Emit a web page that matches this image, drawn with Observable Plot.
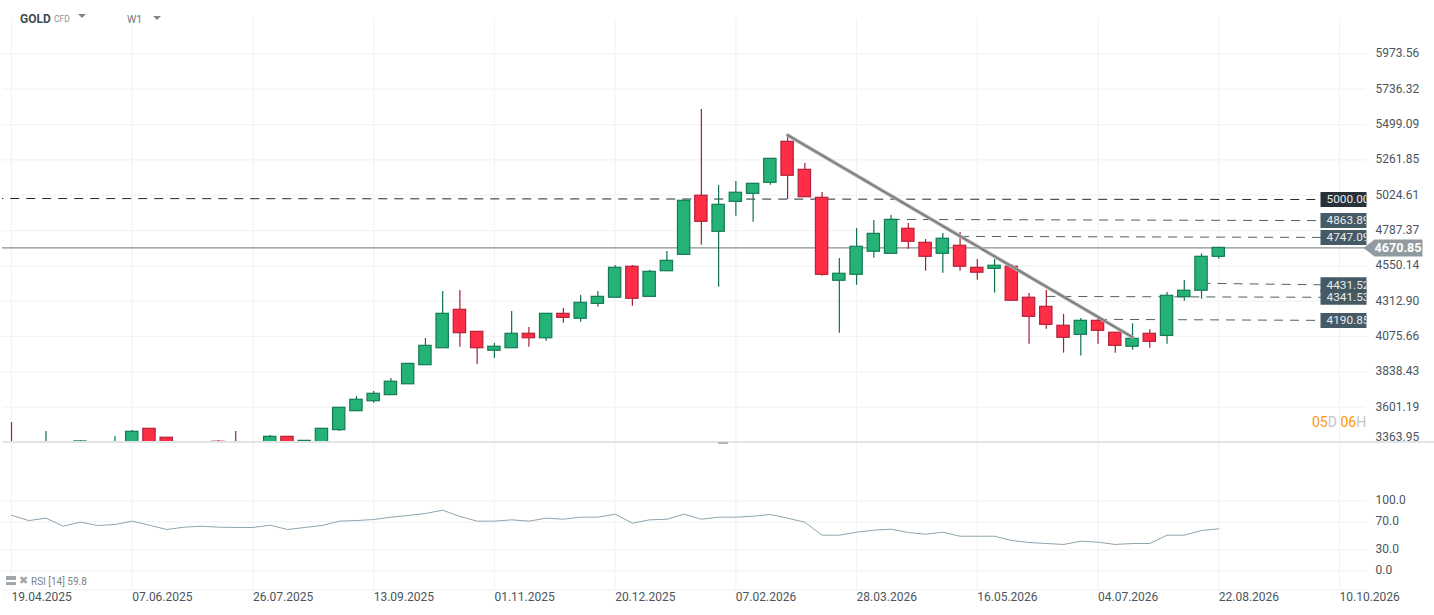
<!DOCTYPE html>
<html>
<head>
<meta charset="utf-8">
<script src="https://cdn.jsdelivr.net/npm/d3@7"></script>
<script src="https://cdn.jsdelivr.net/npm/@observablehq/plot@0.6"></script>
<style>
  html, body { margin: 0; padding: 0; background: #fff; font-family: Roboto, sans-serif; overflow: hidden; }
  #chart { position: relative; width: 1434px; height: 615px; }
  #chart svg { display: block; overflow: visible; background: transparent; }
  .abs { position: absolute; white-space: nowrap; line-height: 1; }
  .tri { position: absolute; width: 0; height: 0; border-left: 4.5px solid transparent; border-right: 4.5px solid transparent; border-top: 4.5px solid #7d868c; }
</style>
</head>
<body>
<div id="chart">
  <div class="abs" style="left:20px;top:13px;font-size:12px;font-weight:700;color:#3f4b53">GOLD</div>
  <div class="abs" style="left:54px;top:15px;font-size:8.5px;color:#8a9298">CFD</div>
  <div class="tri" style="left:78px;top:14px"></div>
  <div class="abs" style="left:127px;top:15px;font-size:10.5px;color:#6f787e">W1</div>
  <div class="tri" style="left:153px;top:16px"></div>
  <div class="abs" style="left:1312px;top:415px;font-size:14px;color:#ff9800">05<span style="color:#c2c5c8">D</span> 06<span style="color:#c2c5c8">H</span></div>
  <div class="abs" style="left:3px;top:441px;width:1431px;height:2px;background:#e1e3e5"></div>
  <div class="abs" style="left:718px;top:442px;width:10px;height:1.5px;background:#b4b7ba"></div>
  <div class="abs" style="left:6px;top:576px;width:10px;height:4px;background:#a0a6aa;border-bottom:1px solid #fff"></div>
  <div class="abs" style="left:6px;top:582px;width:10px;height:3px;background:#a0a6aa"></div>
  <div class="abs" style="left:19px;top:575px;font-size:11px;color:#a0a6aa">✖</div>
  <div class="abs" style="left:31px;top:577px;font-size:10px;color:#7b848a">RSI [14] 59.8</div>
</div>
<script>
// ---- weekly candles, index 0 = 19.04.2025 ----
const open_ = [3330,3250,3240,3320,3300,3340,3290,3340,3456,3396,3340,3300,3369,3340,3300,3340,3402,3340,3350,3447,3574,3641,3682,3755,3883,3997,4255,4107,3980,3997,4094,4064,4228,4195,4295,4336,4544,4342,4514,4624,5021,4779,4980,5034,5108,5383,5195,5007,4450,4490,4645,4631,4799,4705,4631,4685,4537,4530,4544,4336,4275,4148,4087,4181,4101,4007,4094,4080,4340,4383,4611];
const high_ = [3498,3340,3438,3350,3375,3355,3404,3445,3456,3396,3355,3371,3377,3438,3355,3411,3402,3375,3456,3597,3673,3706,3794,3892,4062,4378,4385,4107,4029,4244,4136,4228,4264,4351,4378,4553,4553,4521,4647,4987,5600,5090,5117,5101,5269,5421,5237,5043,4600,4801,4855,4888,4835,4727,4767,4774,4593,4593,4559,4365,4385,4224,4197,4203,4101,4161,4121,4371,4452,4631,4671];
const low_ = [3280,3230,3200,3270,3280,3280,3270,3320,3330,3320,3300,3280,3310,3300,3280,3320,3330,3330,3340,3438,3574,3628,3682,3755,3883,3997,4004,3888,3928,3997,4004,4044,4165,4172,4273,4336,4279,4342,4514,4624,4689,4407,4884,4843,5092,4996,5011,4481,4098,4420,4602,4631,4662,4514,4501,4514,4454,4367,4316,4024,4125,3964,3944,4024,3964,3984,3997,4024,4313,4326,4595];
const close_ = [3300,3300,3320,3290,3371,3300,3350,3436,3350,3340,3320,3340,3330,3320,3345,3402,3345,3375,3456,3597,3651,3691,3772,3892,4013,4228,4098,3997,4007,4094,4064,4228,4201,4302,4342,4537,4329,4510,4584,4987,4846,4960,5041,5101,5269,5155,5011,4490,4497,4678,4765,4859,4712,4611,4732,4544,4504,4551,4316,4208,4154,4067,4181,4114,4013,4060,4040,4349,4383,4611,4670.85];
const rsi = [79.4,71.8,75.2,63.7,69.5,64.7,66.1,70.9,65.1,59,62.3,63.7,62.3,61.9,61.9,65.1,59,61.9,64.7,70.9,71.8,73.3,76.6,79,81.9,86.6,77.6,70.9,70.9,72.8,70.9,75.2,73.7,76.6,76.6,80.9,68,72.8,73.7,80.9,73.7,76.6,76.6,78,80.4,75.2,69.4,50.9,50.9,55.1,58,59.4,54.7,52.3,55.1,49.4,49.4,49.4,43.3,40.4,39,37.6,42.3,40.9,37.6,39,39,50.9,50.9,57.6,60];

// ---- axes ----
const priceTicks = [3601.19,3838.43,4075.66,4312.90,4550.14,4787.37,5024.61,5261.85,5499.09,5736.32,5973.56];
const priceBase = 3363.95;
const rsiTicks = [0,30,70,100];
const dateLabels = ["19.04.2025","07.06.2025","26.07.2025","13.09.2025","01.11.2025","20.12.2025","07.02.2026","28.03.2026","16.05.2026","04.07.2026","22.08.2026","10.10.2026"];

// ---- horizontal levels drawn on the chart ----
const levelLabels = ["5000.00","4863.89","4747.09","4431.52","4341.53","4190.85"];
const levelStartWeek = [-1,51.0,55.0,69.0,60.0,63.0];
const levelStartPrice = [5002.5,4862,4748,4433,4345,4191];
const levelEndPrice = [4995.7,4854,4741,4423,4339,4184];
const levelEndWeek = 76;
const lastPrice = 4670.85;
const trendWeeks = [45,65];
const trendPrices = [5428,4071];

const parseLabel = s => { const [d,m,y] = s.split("."); return new Date(Date.UTC(+y,+m-1,+d)); };
const week = i => new Date(Date.UTC(2025,3,19) + i*7*864e5);
const offs = 2.5*864e5;

const candles = open_.map((o,i) => ({date:week(i), o, h:high_[i], l:low_[i], c:close_[i], up:close_[i]>=o}));
const levels = levelLabels.map((t,i) => ({t, x1:week(levelStartWeek[i]), y1:levelStartPrice[i], x2:week(levelEndWeek), y2:levelEndPrice[i], dark:i===0}));
const rsiRows = rsi.map((v,i) => ({date:week(i), v}));
const dates = dateLabels.map(parseLabel);
const trend = trendWeeks.map((w,k) => ({x:week(w), y:trendPrices[k]}));

const xScale = {type:"utc", domain:[parseLabel("19.04.2025"),parseLabel("10.10.2026")], range:[11,1339]};
const gridColor = "#f2f3f5";
const textColor = "#4a555d";

const boxSymbol = {draw(ctx){ ctx.rect(-46,-7.5,46,15); }};
const badgeSymbol = {draw(ctx){ ctx.moveTo(-3,0); ctx.lineTo(8,-8.5); ctx.lineTo(56,-8.5); ctx.lineTo(56,8.5); ctx.lineTo(8,8.5); ctx.closePath(); }};

const pricePlot = Plot.plot({
  width:1434, height:443,
  marginLeft:2, marginRight:68, marginTop:18, marginBottom:1,
  style:{fontFamily:"Roboto, sans-serif", fontSize:"12px", color:textColor, background:"transparent"},
  x:{...xScale, axis:null},
  y:{domain:[3363.95,6332], range:[442,0], axis:null},
  marks:[
    Plot.ruleX(dates,{x:d=>d, stroke:gridColor, strokeWidth:1.2}),
    Plot.ruleY(priceTicks,{y:d=>d, stroke:gridColor, strokeWidth:1.2}),
    Plot.axisY(priceTicks,{anchor:"right", tickSize:0, tickPadding:9, label:null, tickFormat:d=>d.toFixed(2), fill:textColor, fontSize:12, dy:-0.5}),
    Plot.axisY([priceBase],{anchor:"right", tickSize:0, tickPadding:9, label:null, tickFormat:d=>d.toFixed(2), fill:textColor, fontSize:12, dy:-5}),
    Plot.ruleY([lastPrice],{stroke:"#87938f", strokeWidth:1.1}),
    Plot.link(levels,{x1:"x1",y1:"y1",x2:"x2",y2:"y2", stroke:d=>d.dark?"#1f2a30":"#4f6169", strokeWidth:1, strokeDasharray:"9,7", clip:true}),
    Plot.ruleX(candles,{x:"date", y1:"l", y2:"h", stroke:d=>d.up?"#0f7050":"#a91d30", strokeWidth:1.2, clip:true}),
    Plot.rect(candles,{x1:d=>new Date(+d.date-offs), x2:d=>new Date(+d.date+offs), y1:"o", y2:"c", fill:d=>d.up?"#25b277":"#ff2e46", stroke:d=>d.up?"#137a55":"#b5213a", strokeWidth:1.2, clip:true}),
    Plot.line(trend,{x:"x", y:"y", stroke:"#b2b2b2", strokeWidth:3.6}),
    Plot.line(trend,{x:"x", y:"y", stroke:"#7e7e7e", strokeWidth:1.8, strokeDasharray:"2,1"}),
    Plot.dot(levels,{y:"y2", frameAnchor:"right", symbol:boxSymbol, r:5, stroke:null, fill:d=>d.dark?"#263238":"#455a64"}),
    Plot.text(levels,{y:"y2", text:"t", frameAnchor:"right", textAnchor:"start", dx:-40, fill:"#e8ebed", fontSize:11.8, clip:true}),
    Plot.dot([lastPrice],{y:d=>d, frameAnchor:"right", symbol:badgeSymbol, r:5, stroke:null, fill:"#919a9e"}),
    Plot.text([lastPrice],{y:d=>d, text:d=>d.toFixed(2), frameAnchor:"right", textAnchor:"start", dx:8, fill:"#fff", fontSize:12.6, fontWeight:700})
  ]
});

const rsiPlot = Plot.plot({
  width:1434, height:172,
  marginLeft:2, marginRight:68, marginTop:0, marginBottom:25.7,
  style:{fontFamily:"Roboto, sans-serif", fontSize:"12px", color:textColor, background:"transparent"},
  x:{...xScale, axis:null},
  y:{domain:[0,100], range:[127.3,57.3], axis:null},
  marks:[
    Plot.ruleX(dates,{x:d=>d, stroke:gridColor, strokeWidth:1.2}),
    Plot.ruleY(rsiTicks,{y:d=>d, stroke:gridColor, strokeWidth:1.2}),
    Plot.frame({anchor:"bottom", stroke:gridColor, strokeWidth:1.2}),
    Plot.axisY(rsiTicks,{anchor:"right", tickSize:0, tickPadding:9, label:null, tickFormat:d=>d.toFixed(1), fill:textColor, fontSize:12, dy:-0.7}),
    Plot.line(rsiRows,{x:"date", y:"v", stroke:"#90a4ae", strokeWidth:1}),
    Plot.text(dates,{x:d=>d, text:(d,i)=>dateLabels[i], frameAnchor:"bottom", textAnchor:"start", lineAnchor:"top", dy:3, fill:textColor, fontSize:12})
  ]
});

const chart = document.getElementById("chart");
chart.insertBefore(rsiPlot, chart.firstChild);
chart.insertBefore(pricePlot, rsiPlot);
</script>
</body>
</html>
